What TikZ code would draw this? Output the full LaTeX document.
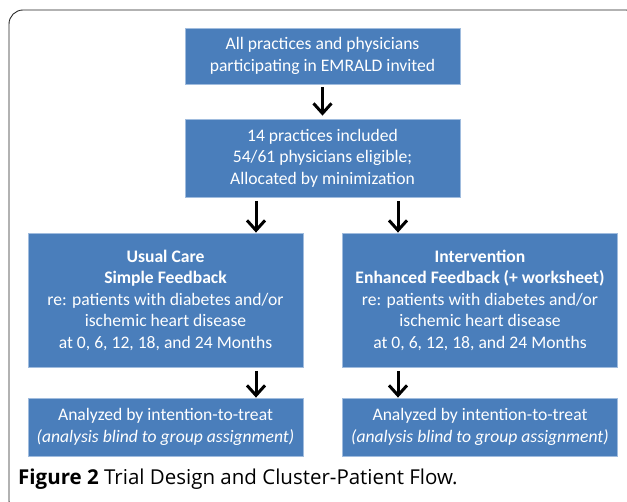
\documentclass[tikz,border=0pt]{standalone}
\usepackage{fontspec}
\setmainfont{Carlito}
\newfontfamily\capfont{Open Sans}
\usetikzlibrary{arrows.meta}
\definecolor{boxblue}{RGB}{74,126,187}
\definecolor{boxedge}{RGB}{160,188,222}
\tikzset{
  flowbox/.style={draw=boxedge, line width=0.8pt, fill=boxblue, text=white, align=center,
    font=\fontsize{17.6}{21.5}\selectfont, inner sep=0pt},
  flowarrow/.style={line width=3pt, -{Straight Barb[length=10pt,width=18pt,line width=3pt]}},
}
\begin{document}
\begin{tikzpicture}[x=1pt,y=-1pt]
\useasboundingbox (0,0) rectangle (627,502);
\begin{scope}
\clip (0,0) rectangle (627,502);
\draw[line width=0.9pt, color=black!85, rounded corners=14pt] (9,10) rectangle (640,515);
\end{scope}
\node[flowbox, minimum width=275pt, minimum height=56pt] (a) at (322.5,56) {All practices and physicians\\participating in EMRALD invited};
\node[flowbox, minimum width=275pt, minimum height=78pt] (b) at (322.5,158) {14 practices included\\54/61 physicians eligible;\\Allocated by minimization};
\node[flowbox, minimum width=275pt, minimum height=134pt] (c) at (165.5,300) {\textbf{Usual Care}\\\textbf{Simple Feedback}\\re: patients with diabetes and/or\\ischemic heart disease\\at 0, 6, 12, 18, and 24 Months};
\node[flowbox, minimum width=275pt, minimum height=134pt] (d) at (480,300) {\textbf{Intervention}\\\textbf{Enhanced Feedback (+ worksheet)}\\re: patients with diabetes and/or\\ischemic heart disease\\at 0, 6, 12, 18, and 24 Months};
\node[flowbox, minimum width=275pt, minimum height=58pt] (e) at (165.5,427) {Analyzed by intention-to-treat\\\textit{(analysis blind to group assignment)}};
\node[flowbox, minimum width=275pt, minimum height=58pt] (f) at (480,427) {Analyzed by intention-to-treat\\\textit{(analysis blind to group assignment)}};
\coordinate (s1) at (256,201);
\coordinate (s2) at (398,201);
\coordinate (s3) at (256,371);
\coordinate (s4) at (398,371);
\draw[flowarrow] ([yshift=-3pt]a.south) -- ([yshift=3pt]b.north);
\draw[flowarrow] (s1) -- (s1 |- c.north);
\draw[flowarrow] (s2) -- (s2 |- d.north);
\draw[flowarrow] (s3) -- (s3 |- e.north);
\draw[flowarrow] (s4) -- (s4 |- f.north);
\node[anchor=base west, inner sep=0pt, font=\capfont\fontsize{20.5}{24}\selectfont, text=black] (cap) at (18,485) {\textbf{Figure 2} Trial Design and Cluster-Patient Flow.};
\end{tikzpicture}
\end{document}
